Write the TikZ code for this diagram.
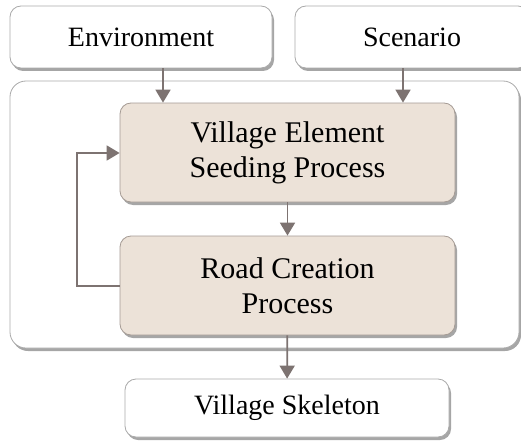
\documentclass[tikz,border=0pt]{standalone}
\usepackage{fontspec}
\setmainfont{Liberation Serif}
\usetikzlibrary{shadows,arrows.meta}
\definecolor{procfill}{RGB}{236,226,216}
\definecolor{procborder}{RGB}{165,155,148}
\definecolor{boxborder}{RGB}{170,170,170}
\definecolor{arrowcol}{RGB}{125,115,113}
\tikzset{
  shadowed/.style={drop shadow={shadow xshift=2pt,shadow yshift=-3pt,fill=black,opacity=0.35}},
  whitebox/.style={draw=boxborder,line width=0.8pt,fill=white,rounded corners=11pt,shadowed,
    inner sep=0pt,font=\fontsize{28}{33}\selectfont},
  procbox/.style={draw=procborder,line width=0.8pt,fill=procfill,rounded corners=11pt,shadowed,
    inner sep=0pt,align=center,font=\fontsize{30}{35}\selectfont},
  outerbox/.style={draw=boxborder,line width=0.8pt,fill=white,rounded corners=16pt,shadowed,inner sep=0pt},
  conn/.style={draw=arrowcol,line width=1.8pt,-{Triangle[length=13pt,width=15pt]}},
}
\begin{document}
\begin{tikzpicture}[x=1pt,y=-1pt]
\useasboundingbox (0,0) rectangle (521,441);
\node[outerbox,minimum width=509pt,minimum height=267pt] (outer) at (264.5,214.5) {};
\node[whitebox,minimum width=262pt,minimum height=62pt] (env) at (141,37) {Environment};
\node[whitebox,minimum width=234pt,minimum height=62pt] (scen) at (412,37) {Scenario};
\node[procbox,minimum width=335pt,minimum height=99pt] (seed) at (287.5,152.5) {Village Element\\Seeding Process};
\node[procbox,minimum width=335pt,minimum height=99pt] (road) at (287.5,285.5) {Road Creation\\Process};
\node[whitebox,minimum width=324pt,minimum height=58pt] (skel) at (287,408) {Village Skeleton};
\coordinate (fbA) at (77,286);
\coordinate (fbB) at (77,153);
\draw[conn] (env.south -| 163,0) -- (seed.north -| 163,0);
\draw[conn] (scen.south -| 403,0) -- (seed.north -| 403,0);
\draw[conn] (seed) -- (road);
\draw[conn] (road) -- (skel);
\draw[conn] (road.west |- fbA) -- (fbA) -- (fbB) -- (seed.west |- fbB);
\end{tikzpicture}
\end{document}
